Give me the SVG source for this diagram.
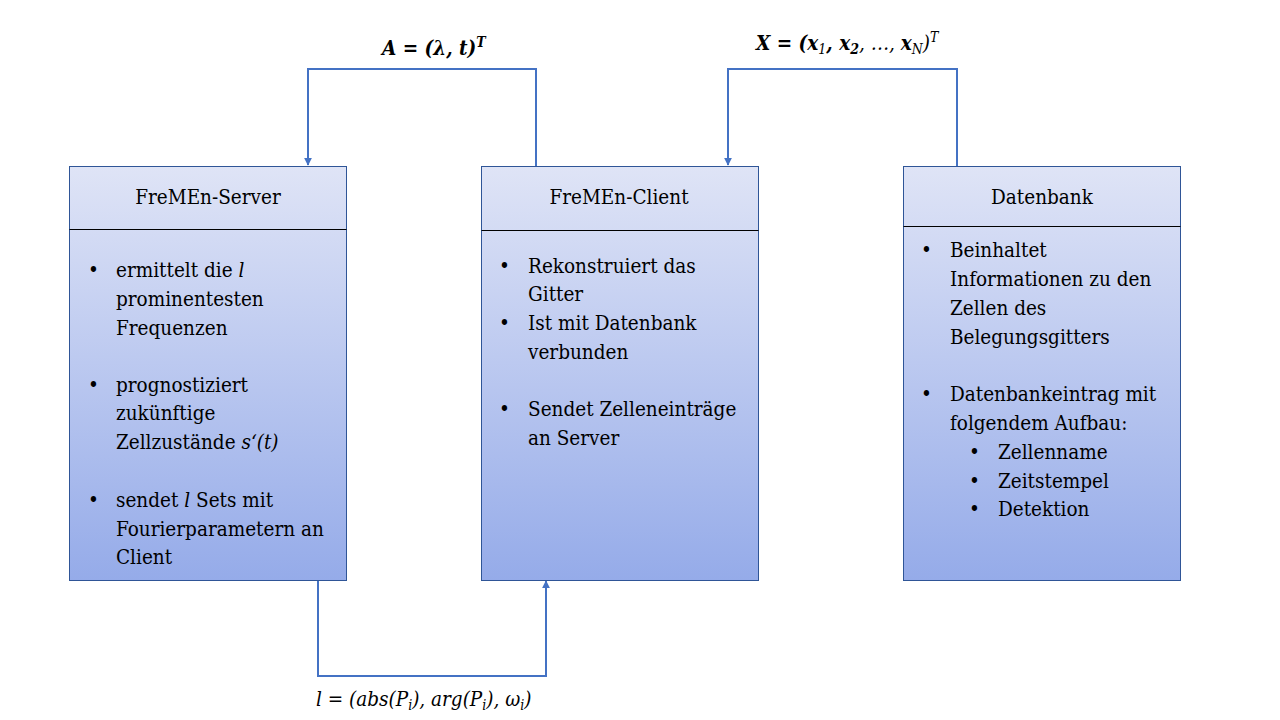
<svg xmlns="http://www.w3.org/2000/svg" width="1280" height="720" viewBox="0 0 1280 720">
<defs>
<linearGradient id="g" x1="0" y1="0" x2="0" y2="1">
<stop offset="0" stop-color="#dfe4f6"/>
<stop offset="1" stop-color="#95abe9"/>
</linearGradient>
<marker id="ah" viewBox="0 0 10 10" refX="9" refY="5" markerWidth="4" markerHeight="4" orient="auto-start-reverse" markerUnits="strokeWidth">
<path d="M0,0 L10,5 L0,10 z" fill="#4472c4"/>
</marker>
</defs>
<style>
.box{fill:url(#g);stroke:#2f5597;stroke-width:1}
.div{stroke:#000;stroke-width:1}
text{font-family:'DejaVu Serif Condensed','DejaVu Serif',serif;font-stretch:condensed;font-size:20.5px;fill:#000}
.h{text-anchor:middle}
.conn{fill:none;stroke:#4472c4;stroke-width:2}
.lab{font-weight:bold;font-style:italic}
.it{font-style:italic}
</style>
<rect width="1280" height="720" fill="#fff"/>
<g id="connectors">
<polyline class="conn" points="536,166 536,69 308,69 308,165" marker-end="url(#ah)"/>
<polyline class="conn" points="957,166 957,69 728,69 728,165" marker-end="url(#ah)"/>
<polyline class="conn" points="318,580 318,676 546,676 546,581" marker-end="url(#ah)"/>
</g>
<g id="server">
<rect class="box" x="69.5" y="166.5" width="277" height="414"/>
<line class="div" x1="69.5" y1="229.5" x2="346.5" y2="229.5"/>
<text class="h" x="208" y="204">FreMEn-Server</text>
<text x="88" y="277">•</text><text x="116" y="277">ermittelt die <tspan class="it">l</tspan></text>
<text x="116" y="306">prominentesten</text>
<text x="116" y="335">Frequenzen</text>
<text x="88" y="392">•</text><text x="116" y="392">prognostiziert</text>
<text x="116" y="420">zukünftige</text>
<text x="116" y="449">Zellzustände <tspan class="it">s‘(t)</tspan></text>
<text x="88" y="507">•</text><text x="116" y="507">sendet <tspan class="it">l</tspan> Sets mit</text>
<text x="116" y="536">Fourierparametern an</text>
<text x="116" y="564">Client</text>
</g>
<g id="client">
<rect class="box" x="481.5" y="166.5" width="277" height="414"/>
<line class="div" x1="481.5" y1="230.5" x2="758.5" y2="230.5"/>
<text class="h" x="619" y="204">FreMEn-Client</text>
<text x="499" y="273">•</text><text x="528" y="273">Rekonstruiert das</text>
<text x="528" y="301">Gitter</text>
<text x="499" y="330">•</text><text x="528" y="330">Ist mit Datenbank</text>
<text x="528" y="359">verbunden</text>
<text x="499" y="416">•</text><text x="528" y="416">Sendet Zelleneinträge</text>
<text x="528" y="445">an Server</text>
</g>
<g id="datenbank">
<rect class="box" x="903.5" y="166.5" width="277" height="414"/>
<line class="div" x1="903.5" y1="226.5" x2="1180.5" y2="226.5"/>
<text class="h" x="1042" y="204">Datenbank</text>
<text x="921" y="257">•</text><text x="950" y="257">Beinhaltet</text>
<text x="950" y="286">Informationen zu den</text>
<text x="950" y="315">Zellen des</text>
<text x="950" y="344">Belegungsgitters</text>
<text x="921" y="401">•</text><text x="950" y="401">Datenbankeintrag mit</text>
<text x="950" y="430">folgendem Aufbau:</text>
<text x="969" y="459">•</text><text x="998" y="459">Zellenname</text>
<text x="969" y="488">•</text><text x="998" y="488">Zeitstempel</text>
<text x="969" y="516">•</text><text x="998" y="516">Detektion</text>
</g>
<g id="labels">
<text class="lab" x="382" y="55">A = (λ, t)<tspan font-size="14" dy="-8">T</tspan></text>
<text class="lab" x="756" y="50">X = (x<tspan font-size="14" dy="4" font-weight="normal">1</tspan><tspan dy="-4">, x</tspan><tspan font-size="14" dy="4">2</tspan><tspan dy="-4" font-weight="normal">, …, </tspan><tspan>x</tspan><tspan font-size="14" dy="4" font-weight="normal">N</tspan><tspan dy="-4" font-weight="normal">)</tspan><tspan font-size="14" dy="-8" font-weight="normal">T</tspan></text>
<text class="it" x="316" y="706">l = (abs(P<tspan font-size="14" dy="4">i</tspan><tspan dy="-4">), arg(P</tspan><tspan font-size="14" dy="4">i</tspan><tspan dy="-4">), ω</tspan><tspan font-size="14" dy="4">i</tspan><tspan dy="-4">)</tspan></text>
</g>
</svg>
